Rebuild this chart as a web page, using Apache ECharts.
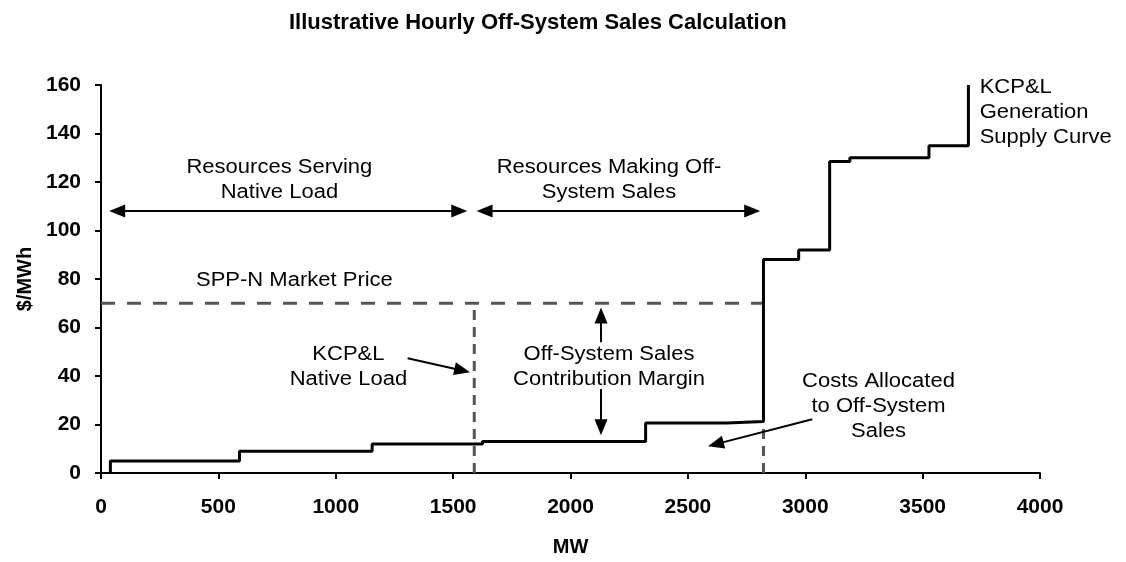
<!DOCTYPE html>
<html><head><meta charset="utf-8">
<script src="https://cdn.jsdelivr.net/npm/echarts@6/dist/echarts.min.js"></script>
<style>html,body{margin:0;padding:0;background:#fff}#c{width:1126px;height:562px}</style>
</head><body><div id="c"></div>
<script>
// ---- data ----
const titleText = 'Illustrative Hourly Off-System Sales Calculation';
const xTicks = [0, 500, 1000, 1500, 2000, 2500, 3000, 3500, 4000];
const yTicks = [0, 20, 40, 60, 80, 100, 120, 140, 160];
// supply curve blocks: start MW and price ($/MWh)
const blockStartMW = [40, 590, 1155, 1625, 2320, 2665, 2822, 2972, 3104, 3190, 3527];
const blockPrice   = [5, 9, 12, 13, 20.6, 21.2, 88, 92, 128.5, 130, 135];
const curveEndMW = 3695;
const curveTopPrice = 160;
const marketPrice = 70;
const nativeLoadMW = 1590;
const offSystemEndMW = 2822;
const offSystemEndCost = 21.2;

// annotation anchors (data coords)
const notes = [
  {text: 'Resources Serving\nNative Load', mw: 760, p: 120.8, align: 'center'},
  {text: 'Resources Making Off-\nSystem Sales', mw: 2164, p: 120.8, align: 'center'},
  {text: 'SPP-N Market Price', mw: 824, p: 79.4, align: 'center'},
  {text: 'KCP&L\nNative Load', mw: 1054, p: 43.6, align: 'center'},
  {text: 'Off-System Sales\nContribution Margin', mw: 2164, p: 43.6, align: 'center'},
  {text: 'Costs Allocated\nto Off-System\nSales', mw: 3312, p: 27.6, align: 'center'},
  {text: 'KCP&L\nGeneration\nSupply Curve', mw: 3743, p: 148.6, align: 'left'}
];
// arrows (symbol centres): [fromMW, fromP, toMW, toP, double]
const arrows = [
  [69, 108, 1526, 108, true],
  [1634, 108, 2774, 108, true],
  [1306, 47.3, 1539, 42.3, false],
  [2130, 53.9, 2130, 65.0, false],
  [2130, 34.6, 2130, 18.9, false],
  [3030, 22.2, 2619, 11.9, false]
];

// ---- build ----
const curve = [[blockStartMW[0], 0]];
blockStartMW.forEach((m, i) => curve.push([m, blockPrice[i]]));
curve.push([curveEndMW, blockPrice[blockPrice.length - 1]]);
curve.push([curveEndMW, curveTopPrice]);

const FONT = 'Liberation Sans, Arial, sans-serif';
const chart = echarts.init(document.getElementById('c'), null, {renderer: 'canvas'});
const dashColor = '#555';
const option = {
  animation: false,
  backgroundColor: '#fff',
  title: {text: titleText, left: 284, top: 7,
    textStyle: {fontFamily: FONT, fontWeight: 'bold', fontSize: 22, color: '#000'}},
  grid: {left: 101, right: 86, top: 85, bottom: 88},
  xAxis: {type: 'value', min: 0, max: 4000, interval: 500,
    name: 'MW', nameLocation: 'middle', nameGap: 64,
    nameTextStyle: {fontFamily: FONT, fontWeight: 'bold', fontSize: 20, color: '#000'},
    axisLine: {lineStyle: {color: '#000', width: 2}},
    axisTick: {length: 6, lineStyle: {color: '#000', width: 2}},
    axisLabel: {fontFamily: FONT, fontWeight: 'bold', fontSize: 21, color: '#000', margin: 24,
      formatter: v => xTicks.includes(v) ? String(v) : ''},
    splitLine: {show: false}},
  yAxis: {type: 'value', min: 0, max: 160, interval: 20,
    name: '$/MWh', nameLocation: 'middle', nameGap: 57,
    nameTextStyle: {fontFamily: FONT, fontWeight: 'bold', fontSize: 20, color: '#000'},
    axisLine: {show: true, lineStyle: {color: '#000', width: 2}},
    axisTick: {show: true, length: 6, lineStyle: {color: '#000', width: 2}},
    axisLabel: {fontFamily: FONT, fontWeight: 'bold', fontSize: 21, color: '#000', margin: 20,
      formatter: v => yTicks.includes(v) ? String(v) : ''},
    splitLine: {show: false}},
  series: [
    {type: 'line', name: 'Market', data: [[0, marketPrice], [offSystemEndMW, marketPrice]],
      symbol: 'none', lineStyle: {color: dashColor, width: 3, type: [14, 12]}, z: 2},
    {type: 'line', name: 'NativeLoad', data: [[nativeLoadMW, 0], [nativeLoadMW, marketPrice]],
      symbol: 'none', lineStyle: {color: dashColor, width: 3, type: [10, 7]}, z: 2},
    {type: 'line', name: 'OSS', data: [[offSystemEndMW, 0], [offSystemEndMW, offSystemEndCost]],
      symbol: 'none', lineStyle: {color: dashColor, width: 3, type: [10, 7]}, z: 2},
    {type: 'line', name: 'Supply', data: curve, step: 'end', symbol: 'none',
      lineStyle: {color: '#000', width: 3}, z: 5,
      markLine: {silent: true, symbolSize: [13, 16], precision: 3,
        lineStyle: {color: '#000', width: 2, type: 'solid'}, label: {show: false},
        data: arrows.map(a => [
          {coord: [a[0], a[1]], symbol: a[4] ? 'triangle' : 'none'},
          {coord: [a[2], a[3]], symbol: 'triangle'}
        ])}}
  ]
};
chart.setOption(option);
const g = notes.map(n => {
  const pt = chart.convertToPixel({gridIndex: 0}, [n.mw, n.p]);
  return {type: 'text', x: pt[0], y: pt[1], z: 10, scaleX: 1.1,
    style: {text: n.text, fontFamily: FONT, fontSize: 20, lineHeight: 25, fill: '#000',
      align: n.align, verticalAlign: 'middle'}};
});
chart.setOption({graphic: g});
</script></body></html>
